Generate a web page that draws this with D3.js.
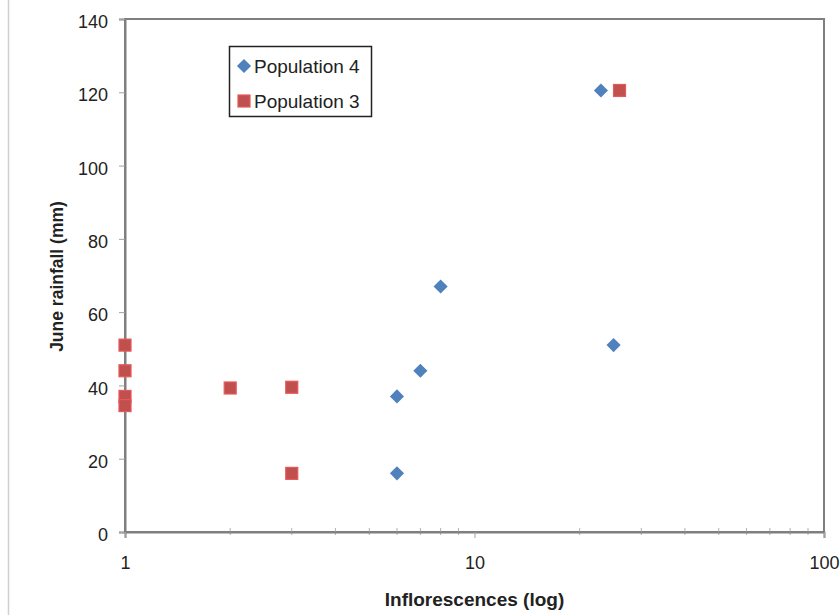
<!DOCTYPE html>
<html><head><meta charset="utf-8">
<script src="https://cdn.jsdelivr.net/npm/d3@7"></script>
<style>body{margin:0;background:#fff}svg{display:block}</style>
</head><body>
<script>
const pop4X = [23, 8, 25, 7, 6, 6];
const pop4Y = [120.5, 67, 51, 44, 37, 16];
const pop3X = [26, 1, 1, 1, 1, 2, 3, 3];
const pop3Y = [120.5, 51, 44, 37, 34.5, 39.3, 39.5, 16];
const yTicks = [0, 20, 40, 60, 80, 100, 120, 140];
const xTicks = [1, 10, 100];
const seriesNames = ["Population 4", "Population 3"];

const W = 840, H = 615;
const m = {l:125, r:16, t:19, b:83};
const svg = d3.select("body").append("svg").attr("width", W).attr("height", H);
const font = "'Liberation Sans', Arial, sans-serif";

svg.append("line").attr("x1",8.5).attr("x2",8.5).attr("y1",0).attr("y2",H)
  .attr("stroke","#d0d0d0").attr("stroke-width",1.5);

const x = d3.scaleLog().domain([1,100]).range([m.l, W-m.r]);
const y = d3.scaleLinear().domain([0,140]).range([H-m.b, m.t]);

// plot border
svg.append("rect").attr("x", m.l).attr("y", m.t).attr("width", W-m.r-m.l).attr("height", H-m.b-m.t)
  .attr("fill","none").attr("stroke","#7f7f7f").attr("stroke-width",2);

// y axis
const ya = svg.append("g").attr("transform", `translate(${m.l},0)`)
  .call(d3.axisLeft(y).tickValues(yTicks).tickSize(6).tickPadding(11));
ya.select(".domain").attr("stroke","#7f7f7f").attr("stroke-width",2);
ya.selectAll(".tick line").attr("stroke","#a0a0a0");
ya.selectAll("text").attr("font-family",font).attr("font-size",18).attr("fill","#222").attr("dy","0.48em");

// x axis minor ticks
const minor = [];
for (let d of [1,10]) for (let k=2;k<=9;k++) minor.push(d*k);
svg.append("g").selectAll("line").data(minor).join("line")
  .attr("x1", d=>x(d)).attr("x2", d=>x(d))
  .attr("y1", H-m.b-4).attr("y2", H-m.b+3)
  .attr("stroke","#b0b0b0");
const xa = svg.append("g").attr("transform", `translate(0,${H-m.b})`)
  .call(d3.axisBottom(x).tickValues(xTicks).tickFormat(d3.format("d")).tickSize(6).tickPadding(18));
xa.select(".domain").attr("stroke","#7f7f7f").attr("stroke-width",2);
xa.selectAll(".tick line").attr("stroke","#a0a0a0");
xa.selectAll("text").attr("font-family",font).attr("font-size",18).attr("fill","#222");

// axis titles
svg.append("text").attr("x", (m.l + W-m.r)/2).attr("y", 606).attr("text-anchor","middle")
  .attr("font-family",font).attr("font-weight","bold").attr("font-size",19).attr("fill","#222")
  .text("Inflorescences (log)");
svg.append("text").attr("transform", `translate(63,${(m.t+H-m.b)/2 + 1}) rotate(-90)`).attr("text-anchor","middle")
  .attr("font-family",font).attr("font-weight","bold").attr("font-size",17.5).attr("fill","#222")
  .text("June rainfall (mm)");

const blue = "#4f81bd", redFill = "#c0504d", redStroke = "#e8585a";

// series 4 diamonds
svg.append("g").selectAll("rect").data(pop4X.map((v,i)=>[v,pop4Y[i]])).join("rect")
  .attr("x",-5).attr("y",-5).attr("width",10).attr("height",10)
  .attr("transform", d=>`translate(${x(d[0])},${y(d[1])}) rotate(45)`)
  .attr("fill", blue);
// series 3 squares
svg.append("g").selectAll("rect").data(pop3X.map((v,i)=>[v,pop3Y[i]])).join("rect")
  .attr("x", d=>x(d[0])-6).attr("y", d=>y(d[1])-6).attr("width",12).attr("height",12)
  .attr("fill", redFill).attr("stroke", redStroke).attr("stroke-width",1.2);

// legend
const lg = svg.append("g");
lg.append("rect").attr("x",229.5).attr("y",46.5).attr("width",142).attr("height",70)
  .attr("fill","#fff").attr("stroke","#222").attr("stroke-width",1.5);
lg.append("rect").attr("x",-5).attr("y",-5).attr("width",10).attr("height",10)
  .attr("transform","translate(244,66) rotate(45)").attr("fill",blue);
lg.append("rect").attr("x",238).attr("y",95).attr("width",12).attr("height",12)
  .attr("fill",redFill).attr("stroke",redStroke).attr("stroke-width",1.2);
lg.selectAll("text.l").data(seriesNames).join("text")
  .attr("x",254).attr("y",(d,i)=>73+i*35)
  .attr("font-family",font).attr("font-size",19).attr("fill","#222").text(d=>d);
</script>
</body></html>
